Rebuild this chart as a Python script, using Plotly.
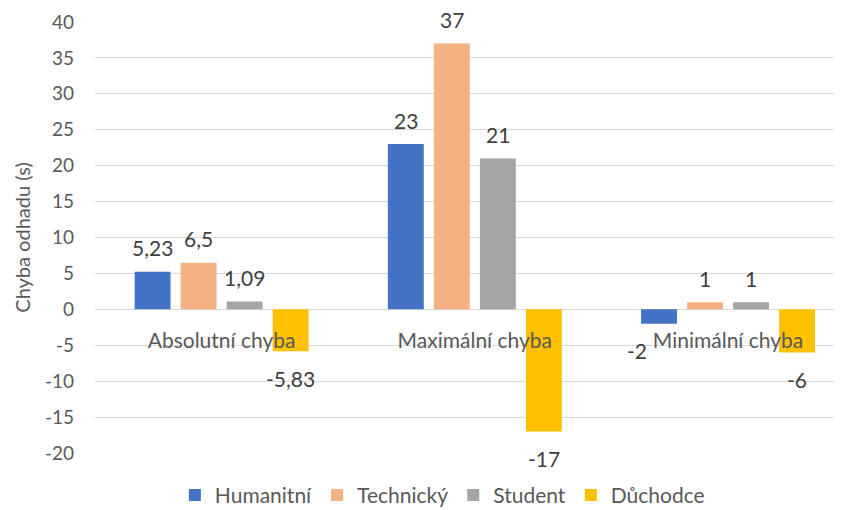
import plotly.graph_objects as go

categories = ["Absolutní chyba", "Maximální chyba", "Minimální chyba"]
series_names = ["Humanitní", "Technický", "Student", "Důchodce"]
humanitni = [5.23, 23, -2]
technicky = [6.5, 37, 1]
student = [1.09, 21, 1]
duchodce = [-5.83, -17, -6]
series_values = [humanitni, technicky, student, duchodce]
labels = [["5,23", "23", "-2"], ["6,5", "37", "1"], ["1,09", "21", "1"], ["-5,83", "-17", "-6"]]
colors = ["#4472C4", "#F4B183", "#A5A5A5", "#FFC000"]
y_ticks = list(range(-20, 45, 5))
y_ticktext = [str(v) for v in y_ticks]

# page body has an 8px default margin; size the figure to fill the rest of the window
W, H = 834, 502
ml, mr, mt, mb = 87, 0, 14, 57
x_range = [-0.5, 2.45]
bargap = 0.273
bargroupgap = 0.22
font = "Lato, 'Open Sans', sans-serif"
grey = "#595959"

fig = go.Figure()
for name, vals, col in zip(series_names, series_values, colors):
    fig.add_trace(go.Bar(name=name, x=categories, y=vals, marker=dict(color=col, line=dict(width=0))))

plot_w = W - ml - mr
px_per_cat = plot_w / (x_range[1] - x_range[0])
pitch = px_per_cat * (1 - bargap) / len(series_names)
for i, (vals, labs) in enumerate(zip(series_values, labels)):
    off = (i - (len(series_names) - 1) / 2) * pitch
    for j, (c, v, t) in enumerate(zip(categories, vals, labs)):
        # Excel nudged the label that would collide with the category text
        nudge = -22 if (i == 0 and j == 2) else 0
        fig.add_annotation(x=c, y=v, text=t, showarrow=False, xshift=off + nudge,
                           yshift=24 if v >= 0 else -27, yanchor="middle",
                           font=dict(family=font, size=21, color="#404040"))

fig.update_layout(
    width=W, height=H,
    margin=dict(l=ml, r=mr, t=mt, b=mb, autoexpand=False),
    paper_bgcolor="white", plot_bgcolor="white",
    barmode="group", bargap=bargap, bargroupgap=bargroupgap,
    font=dict(family=font, size=19, color=grey),
    legend=dict(orientation="h", x=0.465, xanchor="center", y=-0.098, yanchor="middle",
                font=dict(size=21, color=grey), itemwidth=30, traceorder="normal"),
    showlegend=True,
)
fig.update_xaxes(range=x_range, anchor="free", position=1/3, showline=False, showgrid=False,
                 zeroline=False, ticks="", ticklabelstandoff=17, automargin=False,
                 tickfont=dict(family=font, size=21, color=grey))
fig.update_yaxes(range=[-20, 40], tickvals=y_ticks, ticktext=y_ticktext, showgrid=True,
                 gridcolor="#D9D9D9", gridwidth=1,
                 zeroline=True, zerolinecolor="#D9D9D9", zerolinewidth=1, showline=False,
                 ticklabelstandoff=20, automargin=False,
                 tickfont=dict(family=font, size=19, color=grey),
                 title=dict(text="Chyba odhadu (s)", standoff=8, font=dict(family=font, size=20, color=grey)))

fig.write_html("out.html")
